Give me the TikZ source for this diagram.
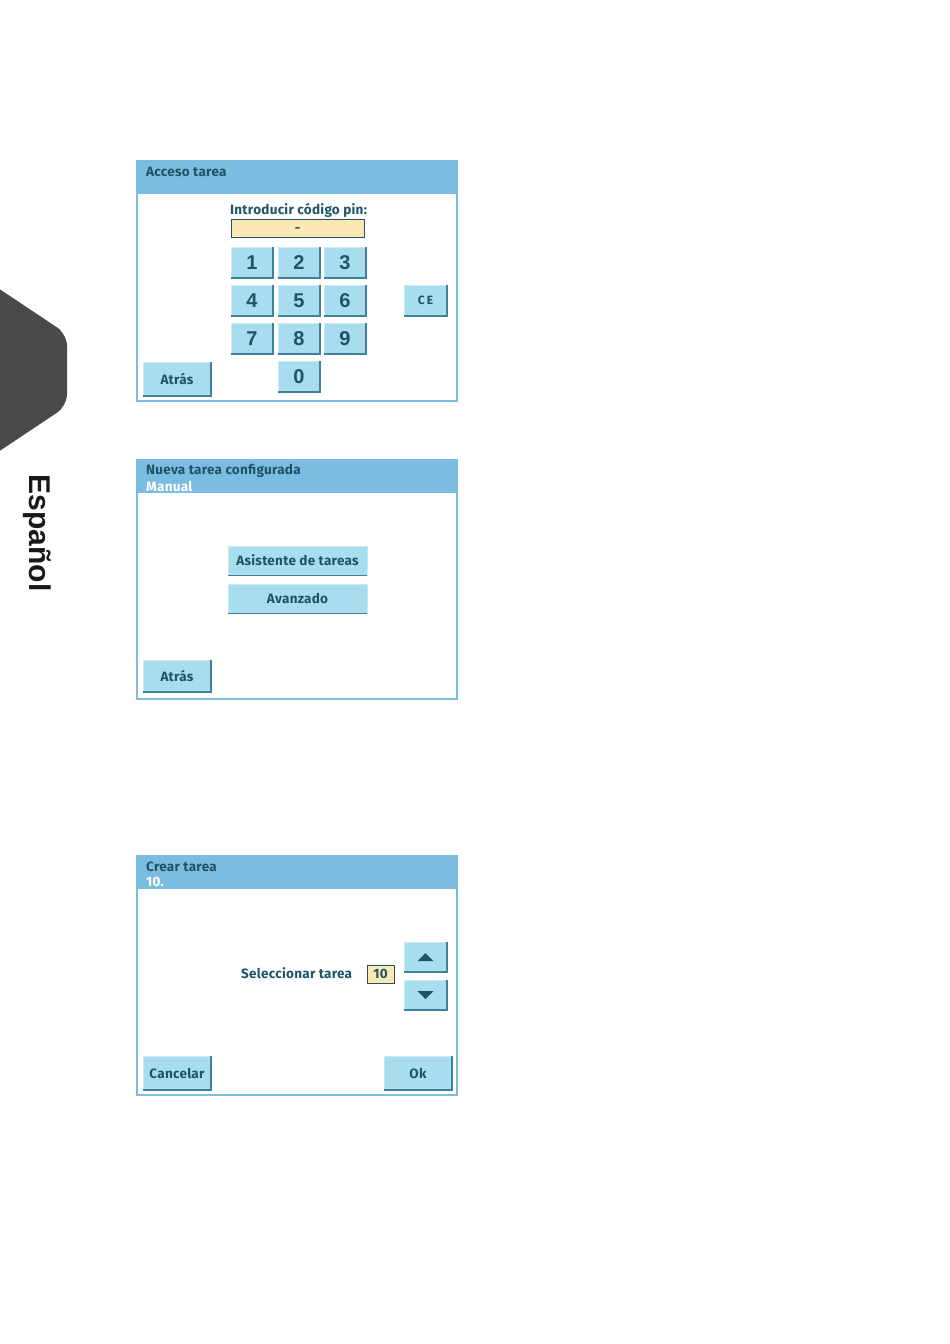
\documentclass[tikz,border=0pt]{standalone}
\usepackage{fontspec}
\usetikzlibrary{calc}
\newfontfamily\uifont[LetterSpace=2]{Fira Sans}
\newfontfamily\keyfont{Liberation Sans}
\definecolor{headblue}{HTML}{7BBDE0}
\definecolor{keyblue}{HTML}{A8DCEF}
\definecolor{keyedge}{HTML}{3F8198}
\definecolor{ink}{HTML}{1D5566}
\definecolor{pinfill}{HTML}{FCE8B4}
\definecolor{tabgray}{HTML}{4A4A4C}
\newcommand{\keyshade}[1]{\draw[keyrim] (#1.south west) -- (#1.south east) -- (#1.north east);}

\begin{document}
\begin{tikzpicture}[x=1pt, y=-1pt,
        ui/.style={font=\uifont\bfseries\fontsize{13.5}{14}\selectfont, text=ink, inner sep=0},
        key/.style={fill=keyblue, draw=keyblue!60!white, line width=.5, inner sep=0,
            minimum width=42, minimum height=31, text=ink},
        digit/.style={key, font=\keyfont\bfseries\fontsize{20}{20}\selectfont},
        keyrim/.style={keyedge, line width=1.6},
        pin/.style={fill=pinfill, draw=ink, line width=.8, inner sep=0, minimum height=18, text=ink},
        panel/.style={draw=headblue, line width=1.3}]
            \useasboundingbox[fill=white] (0,0) rectangle (950,1344);

            % side tab
            \fill[tabgray, rounded corners=12] (-20,276) -- (67,334) -- (67,406) -- (-20,464) -- cycle;
            \node[rotate=-90, font=\keyfont\bfseries\fontsize{30}{30}\selectfont, text=black!90] (lang) at (37,533) {Español};

            % screen 1
            \fill[headblue] (137,161) rectangle (457,194);
            \draw[panel] (137,161) rectangle (457,401);
            \node[ui, anchor=west] (head1) at (146,172) {Acceso tarea};
            \node[ui, anchor=west] (ask) at (230,210) {Introducir código pin:};
            \node[pin, minimum width=133, minimum height=18] (pin) at (297.5,228) {};
            \draw[ink, line width=1.5] (pin.south west) -- (pin.south east) -- (pin.north east);
            \node[ui] (dash) at (297.5,230) {-};
            \foreach \d/\x/\y in {1/252/262.5, 2/299/262.5, 3/345/262.5,
                                  4/252/300.5, 5/299/300.5, 6/345/300.5,
                                  7/252/338.5, 8/299/338.5, 9/345/338.5, 0/299/376.5} {
                \node[digit] (k\d) at (\x,\y) {\d};
                \keyshade{k\d}
            }
            \node[key, ui, minimum width=43, minimum height=31, font=\uifont\bfseries\fontsize{12}{12}\selectfont] (ce) at (425.5,300.5) {C\,E};
            \keyshade{ce}
            \node[key, ui, minimum width=68, minimum height=34] (back1) at (177,379) {Atrás};
            \keyshade{back1}

            % screen 2
            \fill[headblue] (137,460) rectangle (457,493);
            \draw[panel] (137,460) rectangle (457,699);
            \node[ui, anchor=west] (head2) at (146,471) {Nueva tarea configurada};
            \node[ui, anchor=west, text=white] (sub2) at (146,486) {Manual};
            \node[key, ui, minimum width=139, minimum height=29] (wizard) at (297.5,560.5) {Asistente de tareas};
            \draw[keyrim, line width=1] (wizard.south west) -- (wizard.south east);
            \node[key, ui, minimum width=139, minimum height=29] (adv) at (297.5,598.5) {Avanzado};
            \draw[keyrim, line width=1] (adv.south west) -- (adv.south east);
            \node[key, ui, minimum width=68, minimum height=32] (back2) at (177,676) {Atrás};
            \keyshade{back2}

            % screen 3
            \fill[headblue] (137,856) rectangle (457,889);
            \draw[panel] (137,856) rectangle (457,1095);
            \node[ui, anchor=west] (head3) at (146,867) {Crear tarea};
            \node[ui, anchor=west, text=white] (sub3) at (146,882) {10.};
            \node[ui, anchor=west] (select) at (241,973) {Seleccionar tarea};
            \node[pin, ui, minimum width=27, minimum height=18, draw=ink] (job) at (380.5,974) {10};
            \node[key, minimum width=43, minimum height=30] (up) at (425.5,957) {};
            \keyshade{up}
            \fill[ink] ($(up)+(-8,4)$) -- ($(up)+(8,4)$) -- ($(up)+(0,-4)$) -- cycle;
            \node[key, minimum width=43, minimum height=30] (down) at (425.5,995) {};
            \keyshade{down}
            \fill[ink] ($(down)+(-8,-4)$) -- ($(down)+(8,-4)$) -- ($(down)+(0,4)$) -- cycle;
            \node[key, ui, minimum width=68, minimum height=34] (cancel) at (177,1073) {Cancelar};
            \keyshade{cancel}
            \node[key, ui, minimum width=68, minimum height=34] (ok) at (418,1073) {Ok};
            \keyshade{ok}
        \end{tikzpicture}
\end{document}
